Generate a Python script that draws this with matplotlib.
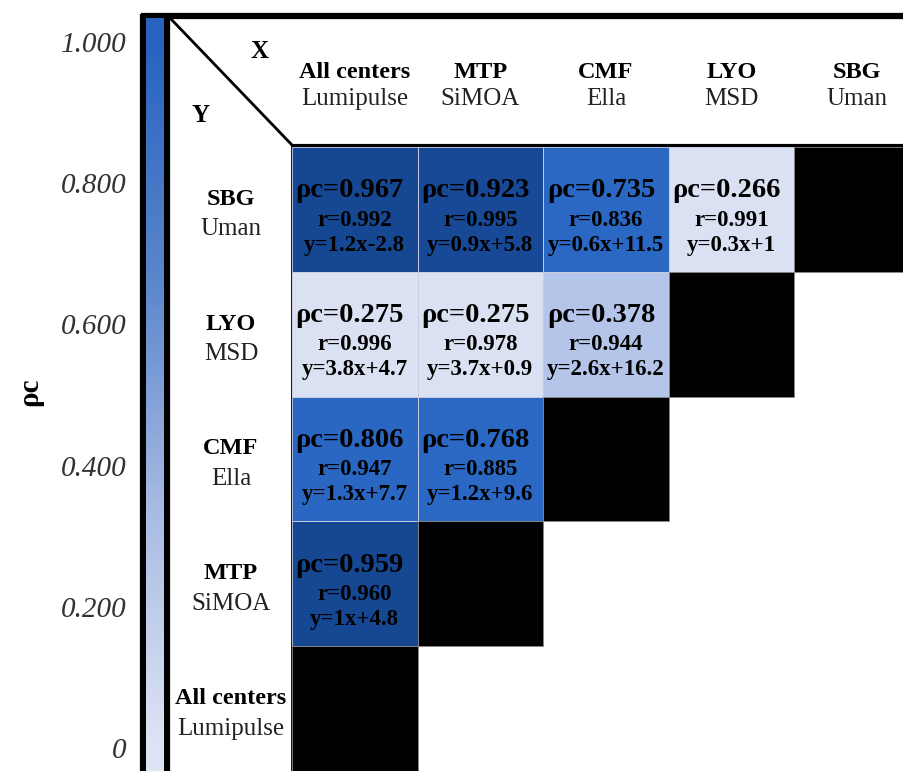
import numpy as np
import matplotlib
matplotlib.use("Agg")
import matplotlib.pyplot as plt
from matplotlib.colors import LinearSegmentedColormap

# ---------------- data ----------------
col_centers = ["All centers", "MTP", "CMF", "LYO", "SBG"]
col_platforms = ["Lumipulse", "SiMOA", "Ella", "MSD", "Uman"]
row_centers = ["SBG", "LYO", "CMF", "MTP", "All centers"]
row_platforms = ["Uman", "MSD", "Ella", "SiMOA", "Lumipulse"]

rho_sbg = [0.967, 0.923, 0.735, 0.266]
rho_lyo = [0.275, 0.275, 0.378]
rho_cmf = [0.806, 0.768]
rho_mtp = [0.959]

r_sbg = [0.992, 0.995, 0.836, 0.991]
r_lyo = [0.996, 0.978, 0.944]
r_cmf = [0.947, 0.885]
r_mtp = [0.960]

eq_sbg = ["y=1.2x-2.8", "y=0.9x+5.8", "y=0.6x+11.5", "y=0.3x+1"]
eq_lyo = ["y=3.8x+4.7", "y=3.7x+0.9", "y=2.6x+16.2"]
eq_cmf = ["y=1.3x+7.7", "y=1.2x+9.6"]
eq_mtp = ["y=1x+4.8"]

cbar_ticks = [0, 0.2, 0.4, 0.6, 0.8, 1.0]
cbar_ticklabels = ["0", "0.200", "0.400", "0.600", "0.800", "1.000"]

rho_rows = [rho_sbg, rho_lyo, rho_cmf, rho_mtp, []]
r_rows = [r_sbg, r_lyo, r_cmf, r_mtp, []]
eq_rows = [eq_sbg, eq_lyo, eq_cmf, eq_mtp, []]

# ---------------- style ----------------
SERIF = ["Liberation Serif", "DejaVu Serif"]
plt.rcParams["font.family"] = SERIF

W, H = 904, 771
fig = plt.figure(figsize=(W / 100, H / 100), dpi=100)

def fx(px):
    return px / W

def fy(py):
    return 1 - py / H

cell_cmap = LinearSegmentedColormap.from_list(
    "cells",
    [(0.0, "#e0e6f5"), (0.30, "#d9e0f2"), (0.40, "#aabde6"),
     (0.70, "#2b69c5"), (0.85, "#2966c1"), (0.90, "#184b98"),
     (1.0, "#134590")])
bar_cmap = LinearSegmentedColormap.from_list(
    "bar", ["#dde4f4", "#a9bbe3", "#5a86cc", "#2963bf"])

# background axes (pixel coordinates) for frame decorations & headers
bg = fig.add_axes([0, 0, 1, 1])
bg.set_xlim(0, W)
bg.set_ylim(H, 0)
bg.axis("off")

# ---------------- matrix ----------------
x0, y0 = 292, 147
cw, ch = 125.6, 124.8
ncols_vis = (W - x0) / cw
ax = fig.add_axes([fx(x0), fy(H), fx(W - x0), fy(y0) - fy(H)])
ax.set_xlim(0, ncols_vis)
ax.set_ylim(5, 0)
ax.axis("off")

nrows = len(row_centers)
ncols = len(col_centers)
vals = np.full((nrows, ncols), np.nan)
for i, rr in enumerate(rho_rows):
    for j, v in enumerate(rr):
        vals[i, j] = v
ax.pcolormesh(np.arange(ncols + 1), np.arange(nrows + 1),
              np.ma.masked_invalid(vals), cmap=cell_cmap, vmin=0, vmax=1,
              edgecolors="none", linewidth=0)
for i in range(nrows):
    for j in range(len(rho_rows[i])):
        ax.add_patch(plt.Rectangle((j, i), 1, 1, fill=False,
                                   edgecolor="#c8cde0", linewidth=0.6))
# black diagonal cells
for i in range(nrows):
    j = ncols - 1 - i
    ax.add_patch(plt.Rectangle((j, i), 1, 1, facecolor="black",
                               edgecolor="#888888", linewidth=0.6))

for i in range(nrows):
    for j, v in enumerate(rho_rows[i]):
        cx = j + 0.5
        ax.text(cx - 0.04, i + 0.5 - 0.15, f"ρc={v:.3f}", ha="center",
                va="center", fontsize=20.5, fontweight="bold", color="black")
        ax.text(cx, i + 0.5 + 0.086, f"r={r_rows[i][j]:.3f}", ha="center",
                va="center", fontsize=16.5, fontweight="bold", color="black")
        ax.text(cx, i + 0.5 + 0.286, eq_rows[i][j], ha="center",
                va="center", fontsize=16.5, fontweight="bold", color="black")

# ---------------- colorbar ----------------
cb_top, cb_bot = 18, H
v_per_px = 1 / (748 - 42)
vmax_cb = 1 + (42 - cb_top) * v_per_px
vmin_cb = -(cb_bot - 748) * v_per_px
cax = fig.add_axes([fx(146), fy(cb_bot), fx(164) - fx(146), fy(cb_top) - fy(cb_bot)])
grad = np.linspace(vmin_cb, vmax_cb, 400).reshape(-1, 1)
cax.imshow(grad, aspect="auto", cmap=bar_cmap, vmin=0, vmax=1,
           origin="lower", extent=[0, 1, vmin_cb, vmax_cb])
cax.set_ylim(vmin_cb, vmax_cb)
cax.set_xticks([])
cax.set_yticks(cbar_ticks)
cax.set_yticklabels(cbar_ticklabels, fontsize=21, fontstyle="italic",
                    color="#333333")
cax.tick_params(axis="y", length=0, pad=14)
for s in cax.spines.values():
    s.set_visible(False)

# frame lines
bg.plot([143, 143], [14, H], color="black", lw=4.5, solid_capstyle="butt")
bg.plot([167, 167], [14, H], color="black", lw=4.5, solid_capstyle="butt")
bg.plot([141, W], [16, 16], color="black", lw=4.5, solid_capstyle="butt")
bg.plot([170, 292], [18, 145], color="black", lw=2)
bg.plot([292, W], [146, 146], color="black", lw=3, solid_capstyle="butt")
bg.plot([292, 292], [145, H], color="black", lw=2, solid_capstyle="butt")

bg.text(30, 392, "ρc", rotation=90, ha="center", va="center",
        fontsize=21, fontweight="bold")
bg.text(260, 52, "X", ha="center", va="center", fontsize=18, fontweight="bold")
bg.text(201, 116, "Y", ha="center", va="center", fontsize=18, fontweight="bold")

# column headers
for j in range(ncols):
    cxp = x0 + (j + 0.5) * cw
    bg.text(cxp, 73, col_centers[j], ha="center", va="center",
            fontsize=17.5, fontweight="bold")
    bg.text(cxp, 99, col_platforms[j], ha="center", va="center", fontsize=18,
            color="#222222")

# row headers
for i in range(nrows):
    cyp = y0 + (i + 0.5) * ch
    bg.text(231, cyp - 10, row_centers[i], ha="center", va="center",
            fontsize=17.5, fontweight="bold")
    bg.text(231, cyp + 20, row_platforms[i], ha="center", va="center",
            fontsize=18, color="#222222")

fig.savefig("out.png", dpi=100)
